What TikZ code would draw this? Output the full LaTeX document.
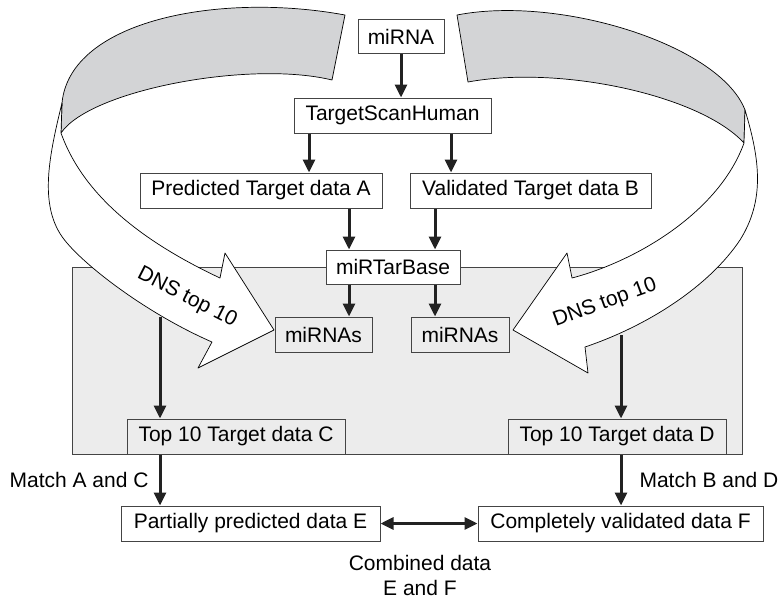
\documentclass[tikz,border=0pt]{standalone}
\usepackage{fontspec}
\setmainfont{Liberation Sans}
\usetikzlibrary{arrows.meta,positioning,calc}
\definecolor{boxline}{HTML}{444444}
\definecolor{panelgray}{HTML}{ECECEC}
\definecolor{ribbongray}{HTML}{D3D4D6}
\definecolor{arrowline}{HTML}{222222}

\begin{document}
\begin{tikzpicture}[x=1pt, y=-1pt,
    every node/.style={font=\fontsize{21}{25}\selectfont},
    >={Triangle[length=13pt,width=12pt]},
    box/.style={draw=boxline, line width=1pt, fill=white, inner sep=0pt, minimum height=35pt},
    graybox/.style={box, fill=panelgray},
    lbl/.style={inner sep=0pt},
    flow/.style={draw=arrowline, line width=3pt, ->},
    ribbon/.style={draw=black, line width=0.7pt, line join=round}]
    \useasboundingbox (0,0) rectangle (784,602);

    % panel
    \draw[draw=boxline, fill=panelgray, line width=1pt] (72,267) rectangle (742,454);

    % left ribbon arrow
    \filldraw[ribbon, fill=ribbongray] (345,15) .. controls (220,-8) and (70,20) .. (62,103)
        -- (61,133) .. controls (90,90) and (250,60) .. (332,80) -- cycle;
    \filldraw[ribbon, fill=white] (62,103) .. controls (48,160) and (38,210) .. (67,243)
        .. controls (90,270) and (150,315) .. (212,342) -- (198,368) -- (274,330)
        -- (225,253) -- (220,278) .. controls (150,245) and (85,200) .. (61,133) -- cycle;
    \node[rotate=-27] (dnsl) at (187,298) {DNS top 10};

    % right ribbon arrow
    \filldraw[ribbon, fill=ribbongray] (457,15) .. controls (560,-5) and (720,45) .. (745,110)
        -- (744,143) .. controls (700,95) and (560,65) .. (468,82) -- cycle;
    \filldraw[ribbon, fill=white] (745,110) .. controls (760,160) and (765,200) .. (740,240)
        .. controls (710,285) and (650,325) .. (585,347) -- (588,373) -- (513,330)
        -- (567,253) -- (572,278) .. controls (640,260) and (720,210) .. (744,143) -- cycle;
    \node[rotate=20] (dnsr) at (605,303) {DNS top 10};

    % boxes
    \node[box, minimum width=86pt, minimum height=34pt] (mirna) at (401,37) {miRNA};
    \node[box, minimum width=197pt] (tsh) at (392.5,115.5) {TargetScanHuman};
    \node[box, minimum width=242pt] (pta) at (261,190.5) {Predicted Target data A};
    \node[box, minimum width=241pt] (vtb) at (530.5,190.5) {Validated Target data B};
    \node[box, minimum width=134pt, minimum height=34pt] (mtb) at (393,267) {miRTarBase};
    \node[graybox, minimum width=97pt] (mirl) at (323.5,334.5) {miRNAs};
    \node[graybox, minimum width=98pt] (mirr) at (460,334.5) {miRNAs};
    \node[graybox, minimum width=218pt] (topc) at (236,436.5) {Top 10 Target data C};
    \node[graybox, minimum width=218pt] (topd) at (617,436.5) {Top 10 Target data D};
    \node[box, minimum width=259pt] (ppe) at (250.5,523.5) {Partially predicted data E};
    \node[box, minimum width=285pt] (cvf) at (620.5,523.5) {Completely validated data F};

    % arrow columns
    \coordinate (cola) at (309,0);
    \coordinate (colb) at (451,0);
    \coordinate (coll) at (349,0);
    \coordinate (colr) at (435,0);
    \coordinate (colc) at (160,317);
    \coordinate (cold) at (621,335);

    % connections
    \draw[flow] (mirna.south) -- (mirna.south |- tsh.north);
    \draw[flow] (tsh.south -| cola) -- (pta.north -| cola);
    \draw[flow] (tsh.south -| colb) -- (vtb.north -| colb);
    \draw[flow] (pta.south -| coll) -- (mtb.north -| coll);
    \draw[flow] (vtb.south -| colr) -- (mtb.north -| colr);
    \draw[flow] (mtb.south -| coll) -- (mirl.north -| coll);
    \draw[flow] (mtb.south -| colr) -- (mirr.north -| colr);
    \draw[flow] (colc) -- (topc.north -| colc);
    \draw[flow] (cold) -- (topd.north -| cold);
    \draw[flow] (topc.south -| colc) -- (ppe.north -| colc) node[lbl, midway, left=10pt] {Match A and C};
    \draw[flow] (topd.south -| cold) -- (cvf.north -| cold) node[lbl, midway, right=17pt] {Match B and D};
    \draw[flow, <->] (ppe) -- (cvf) node[lbl, midway, below=30pt, xshift=-9pt, align=center] {Combined data\\E and F};
\end{tikzpicture}
\end{document}
